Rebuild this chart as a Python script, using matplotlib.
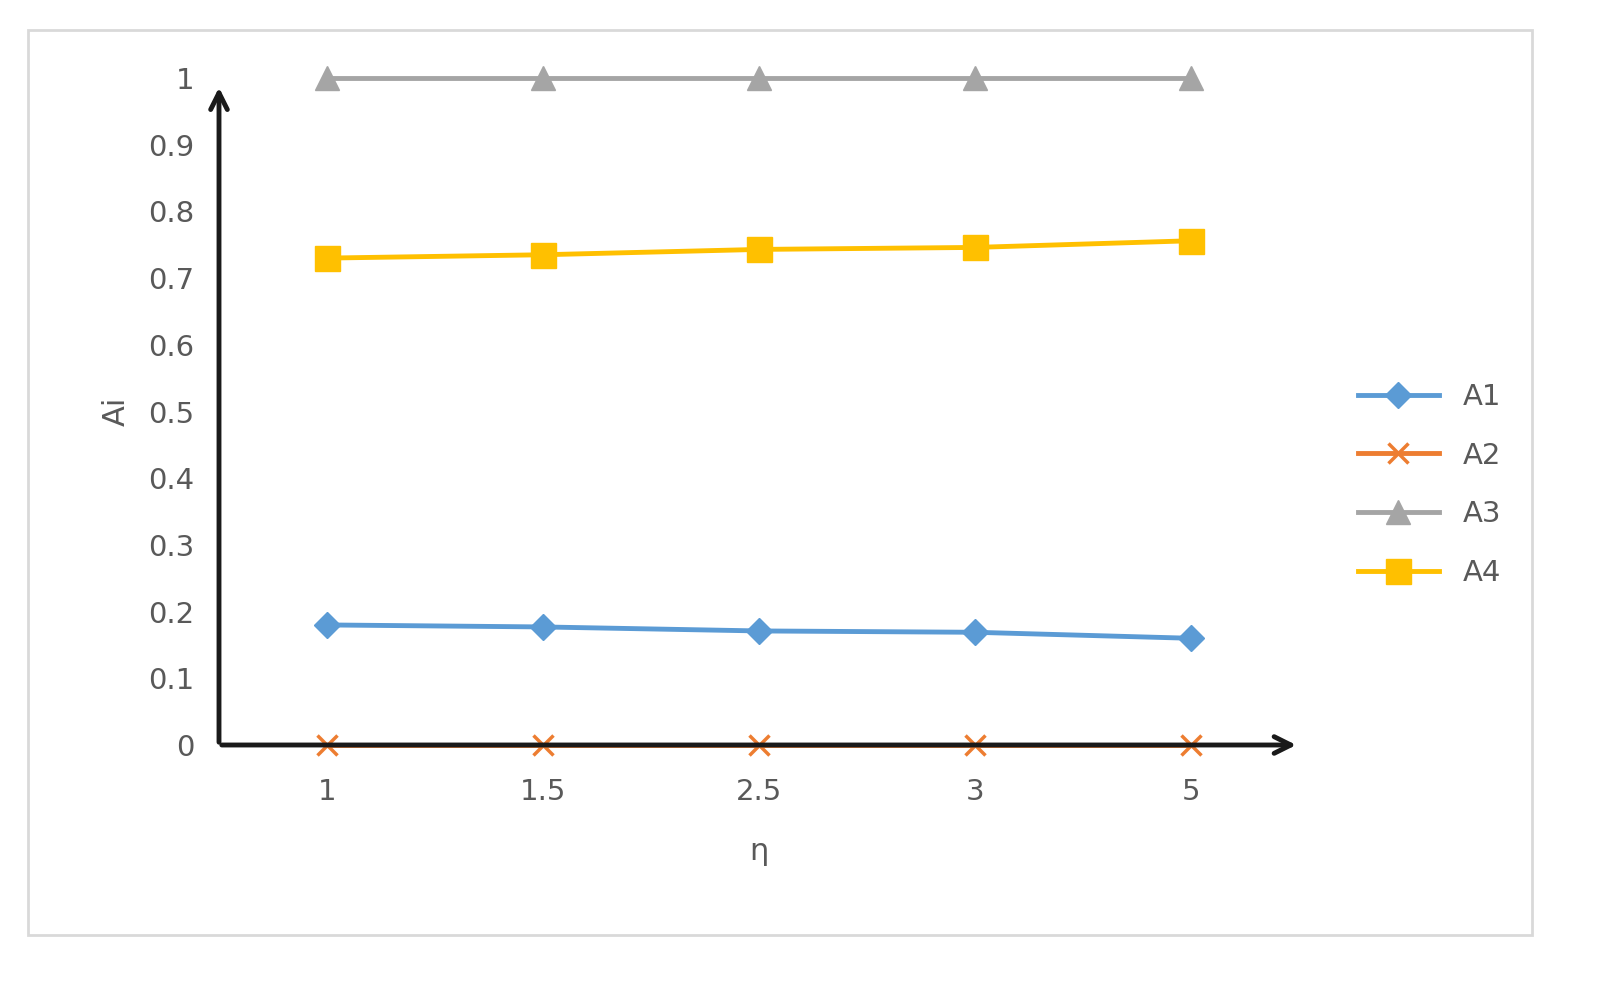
import matplotlib.pyplot as plt
from matplotlib.patches import Rectangle

eta_labels = ['1', '1.5', '2.5', '3', '5']
a1 = [0.18, 0.177, 0.171, 0.169, 0.16]
a2 = [0, 0, 0, 0, 0]
a3 = [1, 1, 1, 1, 1]
a4 = [0.73, 0.735, 0.743, 0.746, 0.756]

fig = plt.figure(figsize=(15.99, 9.88), dpi=100)
fig.patch.set_facecolor('white')
fig.patches.append(Rectangle((28/1599, 1-935/988), 1504/1599, 905/988,
                             transform=fig.transFigure, fill=False,
                             edgecolor='#d9d9d9', linewidth=2))
ax = fig.add_axes([219/1599, 1-745/988, 1080/1599, 667/988])
ax.set_xlim(-0.5, 4.5)
ax.set_ylim(0, 1)
for s in ax.spines.values():
    s.set_visible(False)

x = list(range(len(eta_labels)))
lw = 3.5
ax.plot(x, a2, color='#ED7D31', marker='x', markersize=15, mew=2.5, lw=lw, label='A2', clip_on=False, zorder=3)
ax.plot(x, a1, color='#5B9BD5', marker='D', markersize=13, lw=lw, label='A1', clip_on=False, zorder=3)
ax.plot(x, a3, color='#A5A5A5', marker='^', markersize=17, lw=lw, label='A3', clip_on=False, zorder=3)
ax.plot(x, a4, color='#FFC000', marker='s', markersize=18, lw=lw, label='A4', clip_on=False, zorder=3)

# arrow axes
ax.annotate('', xy=(4.5, 0), xytext=(-0.5, 0), annotation_clip=False,
            arrowprops=dict(arrowstyle='->,head_length=1.2,head_width=0.6', color='#1a1a1a', lw=3.5))
ax.annotate('', xy=(-0.5, 0.99), xytext=(-0.5, 0), annotation_clip=False,
            arrowprops=dict(arrowstyle='->,head_length=1.2,head_width=0.6', color='#1a1a1a', lw=3.5))

ax.set_xticks(x)
ax.set_xticklabels(eta_labels)
ax.set_yticks([i/10 for i in range(11)])
ax.set_yticklabels(['0', '0.1', '0.2', '0.3', '0.4', '0.5', '0.6', '0.7', '0.8', '0.9', '1'])
ax.tick_params(length=0, labelsize=21, colors='#595959', pad=18)
ax.tick_params(axis='x', pad=24)
ax.set_xlabel('η', fontsize=22, color='#595959', labelpad=22)
ax.set_ylabel('Ai', fontsize=22, color='#595959', labelpad=12)

h, l = ax.get_legend_handles_labels()
order = [1, 0, 2, 3]
ax.legend([h[i] for i in order], [l[i] for i in order], loc='center left',
          bbox_to_anchor=(1.03, 0.39), frameon=False, fontsize=21,
          labelcolor='#595959', handlelength=2.8, labelspacing=1.05)

fig.savefig('out.png', dpi=100, facecolor='white')
